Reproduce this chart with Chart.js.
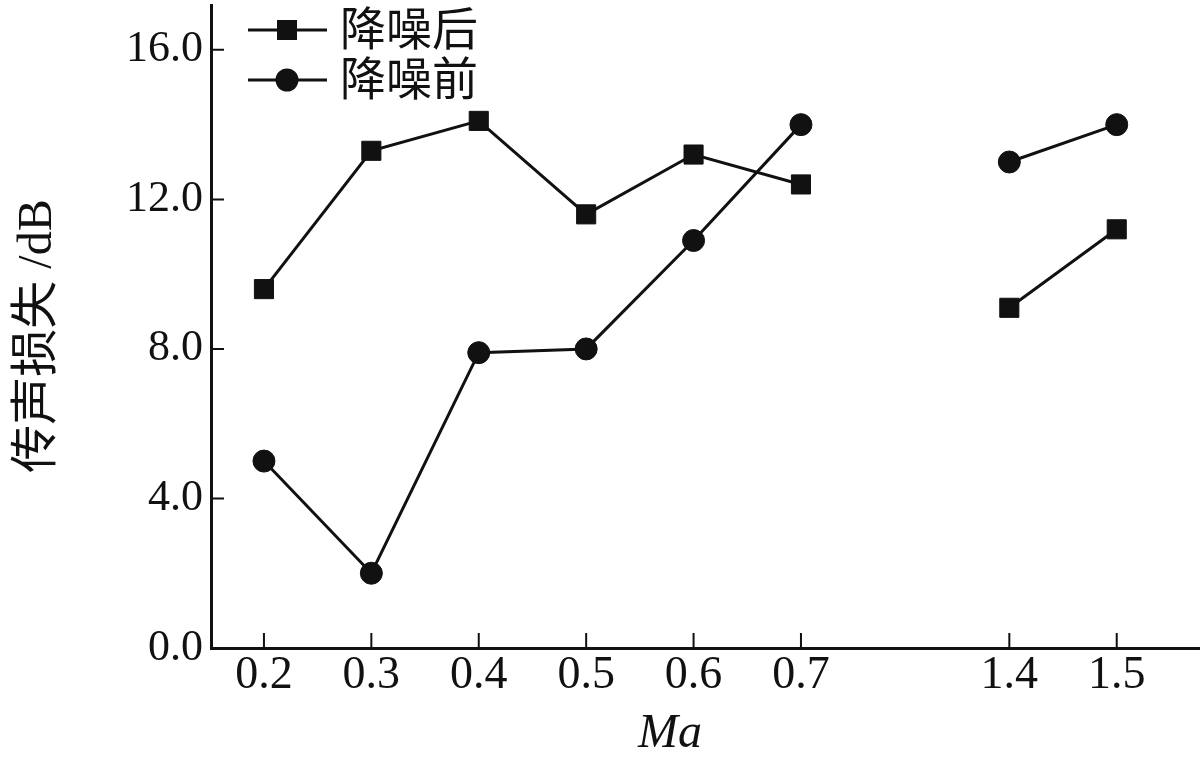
<!DOCTYPE html>
<html>
<head>
<meta charset="utf-8">
<script src="https://cdn.jsdelivr.net/npm/chart.js@4/dist/chart.umd.min.js"></script>
<style>
  html, body { margin: 0; padding: 0; background: #fff; }
  #wrap { width: 1200px; height: 759px; }
</style>
</head>
<body>
<div id="wrap"><canvas id="lossChart" width="1200" height="759"></canvas></div>
<script>
// Mach numbers along the x axis (axis is broken between 0.7 and 1.4)
const machValues = [0.2, 0.3, 0.4, 0.5, 0.6, 0.7, 1.4, 1.5];
const machLabels = ["0.2", "0.3", "0.4", "0.5", "0.6", "0.7", "1.4", "1.5"];

// transmission loss (dB)
const afterReduction = [9.6, 13.3, 14.1, 11.6, 13.2, 12.4, 9.1, 11.2];
const beforeReduction = [5.0, 2.0, 7.9, 8.0, 10.9, 14.0, 13.0, 14.0];

const yTicks = [0, 4, 8, 12, 16];
const seriesNames = ["降噪后", "降噪前"];
const yTitle = "传声损失 /dB";
const xTitle = "Ma";

const SERIF = '"Liberation Serif", "Noto Sans CJK SC", serif';
const INK = "#111";

// squeeze the empty stretch 0.7 -> 1.4 so the break looks like the original
const BREAK_AT = 0.7;
const BREAK_SHIFT = 0.506;
function axisPos(ma) {
  return ma > BREAK_AT ? ma - BREAK_SHIFT : ma;
}

function toPoints(values) {
  const pts = [];
  machValues.forEach((ma, i) => {
    if (i > 0 && machValues[i - 1] <= BREAK_AT && ma > BREAK_AT) {
      // gap in the line across the axis break
      pts.push({ x: (axisPos(machValues[i - 1]) + axisPos(ma)) / 2, y: null });
    }
    pts.push({ x: axisPos(ma), y: values[i] });
  });
  return pts;
}

// inward tick marks, legend with line + marker, axis titles
const decorations = {
  id: "decorations",
  afterDraw(chart) {
    const ctx = chart.ctx;
    const area = chart.chartArea;
    const xs = chart.scales.x;
    const ys = chart.scales.y;
    ctx.save();
    ctx.strokeStyle = INK;
    ctx.lineWidth = 2;
    ctx.beginPath();
    xs.ticks.forEach(t => {
      const px = xs.getPixelForValue(t.value);
      ctx.moveTo(px, area.bottom);
      ctx.lineTo(px, area.bottom - 15);
    });
    ys.ticks.forEach(t => {
      const py = ys.getPixelForValue(t.value);
      ctx.moveTo(area.left, py);
      ctx.lineTo(area.left + 13, py);
    });
    ctx.stroke();

    // legend
    chart.data.datasets.forEach((ds, i) => {
      const y = area.top + 25 + i * 50;
      const x0 = area.left + 37;
      const x1 = area.left + 116;
      const mx = area.left + 76;
      ctx.strokeStyle = INK;
      ctx.lineWidth = 3;
      ctx.beginPath();
      ctx.moveTo(x0, y);
      ctx.lineTo(x1, y);
      ctx.stroke();
      ctx.fillStyle = INK;
      if (ds.pointStyle === "rect") {
        ctx.fillRect(mx - 10, y - 10, 20, 20);
      } else {
        ctx.beginPath();
        ctx.arc(mx, y, 11.5, 0, Math.PI * 2);
        ctx.fill();
      }
      ctx.font = "46px " + SERIF;
      ctx.textBaseline = "middle";
      ctx.textAlign = "left";
      ctx.fillText(ds.label, area.left + 129, y + 3);
    });

    // axis titles
    ctx.fillStyle = INK;
    ctx.textAlign = "center";
    ctx.textBaseline = "middle";
    ctx.font = "italic 48px " + SERIF;
    ctx.fillText(xTitle, 670, 734);
    ctx.translate(38, 336);
    ctx.rotate(-Math.PI / 2);
    ctx.font = "48px " + SERIF;
    ctx.fillText(yTitle, 0, 0);
    ctx.restore();
  }
};

const ctx = document.getElementById("lossChart").getContext("2d");
const chart = new Chart(ctx, {
  type: "line",
  data: {
    datasets: [
      {
        label: seriesNames[0],
        data: toPoints(afterReduction),
        pointStyle: "rect",
        pointRadius: 13.5,
        pointHoverRadius: 13.5,
        pointBorderWidth: 1,
      },
      {
        label: seriesNames[1],
        data: toPoints(beforeReduction),
        pointStyle: "circle",
        pointRadius: 11,
        pointHoverRadius: 11,
        pointBorderWidth: 1,
      },
    ].map(ds => Object.assign(ds, {
      borderColor: INK,
      backgroundColor: INK,
      pointBackgroundColor: INK,
      pointBorderColor: INK,
      borderWidth: 3,
      spanGaps: false,
      tension: 0,
      clip: false,
    })),
  },
  options: {
    responsive: false,
    animation: false,
    devicePixelRatio: 1,
    layout: { autoPadding: false, padding: { top: 5, right: 1, left: 0, bottom: 0 } },
    plugins: {
      legend: { display: false },
      tooltip: { enabled: false },
    },
    scales: {
      x: {
        type: "linear",
        min: 0.1507,
        max: 1.0706,
        grid: { display: false, drawTicks: false },
        border: { display: true, color: INK, width: 3 },
        afterBuildTicks: scale => {
          scale.ticks = machValues.map(v => ({ value: axisPos(v) }));
        },
        afterFit: scale => {
          scale.height = 111;
          scale.paddingLeft = 0;
          scale.paddingRight = 0;
        },
        ticks: {
          autoSkip: false,
          maxRotation: 0,
          padding: 0,
          color: INK,
          font: { family: SERIF, size: 46 },
          callback: (value, index) => machLabels[index],
        },
      },
      y: {
        min: 0,
        max: 17.2,
        grid: { display: false, drawTicks: false },
        border: { display: true, color: INK, width: 3 },
        afterBuildTicks: scale => {
          scale.ticks = yTicks.map(v => ({ value: v }));
        },
        afterFit: scale => {
          scale.width = 211;
          scale.paddingTop = 0;
          scale.paddingBottom = 0;
        },
        ticks: {
          padding: 8,
          color: INK,
          font: { family: SERIF, size: 44 },
          callback: value => Number(value).toFixed(1),
        },
      },
    },
  },
  plugins: [decorations],
});
</script>
</body>
</html>
